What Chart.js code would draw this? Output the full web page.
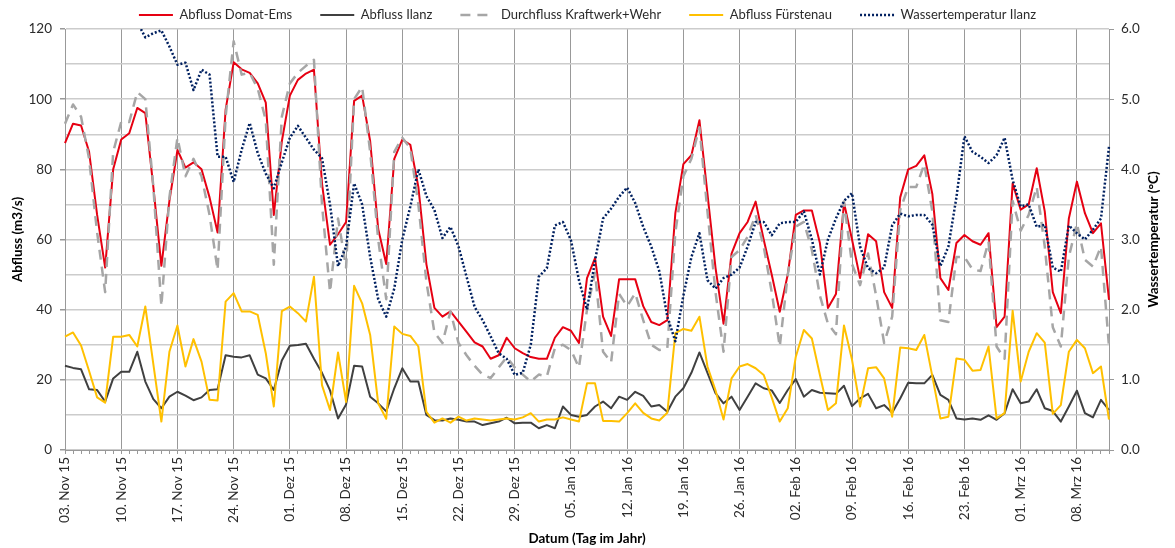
<!DOCTYPE html>
<html>
<head>
<meta charset="utf-8">
<title>Abfluss und Wassertemperatur</title>
<script src="https://cdn.jsdelivr.net/npm/chart.js@4.4.1/dist/chart.umd.min.js"></script>
<style>
  html, body { margin: 0; padding: 0; background: #ffffff; }
  #wrap { width: 1175px; height: 548px; }
</style>
</head>
<body>
<div id="wrap"><canvas id="chart" width="1175" height="548"></canvas></div>
<script>
// Daily values, 03.11.2015 – 12.03.2016 (131 days)
const firstDay = [2015, 10, 3];            // year, month (0-based), day
const monthNames = ['Jan', 'Feb', 'Mrz', 'Apr', 'Mai', 'Jun', 'Jul', 'Aug', 'Sep', 'Okt', 'Nov', 'Dez'];

// labelled weekly ticks on the date axis
const tickLabels = [
  '03. Nov 15', '10. Nov 15', '17. Nov 15', '24. Nov 15', '01. Dez 15', '08. Dez 15',
  '15. Dez 15', '22. Dez 15', '29. Dez 15', '05. Jan 16', '12. Jan 16', '19. Jan 16',
  '26. Jan 16', '02. Feb 16', '09. Feb 16', '16. Feb 16', '23. Feb 16', '01. Mrz 16', '08. Mrz 16'
];

// Abfluss Domat-Ems (m3/s)
const domatEms = [
  87.5, 93, 92.5, 85, 67, 52, 80, 88.5, 90.3, 97.5,
  96, 75, 52.5, 71, 85.5, 80.5, 82, 80, 72, 62,
  97, 110.5, 108.5, 107.5, 104.5, 99, 67, 88, 101, 105.5,
  107.3, 108.4, 76, 58.5, 61.5, 65, 99.5, 101, 88, 63,
  53, 83, 88.5, 87, 75, 53, 40.5, 38, 39.5, 36.6,
  33.7, 30.7, 29.5, 26, 27, 32, 29, 27.6, 26.5, 26,
  26, 32, 35, 34, 30.5, 49, 54.7, 38, 32.5, 48.7,
  48.7, 48.7, 41, 36.5, 35.6, 37, 67.5, 81.5, 84, 94,
  73, 52, 36, 56, 61.8, 65, 70.8, 60, 50, 39.4,
  50, 67, 68.3, 68.3, 59, 40.5, 44.5, 70.5, 60, 49,
  61.5, 59.5, 45, 40.5, 72, 80, 81, 84, 73, 49,
  45.6, 59, 61.3, 59.5, 58.5, 61.8, 35, 38, 76, 68.5,
  70, 80.3, 68, 45, 39, 66, 76.5, 67.5, 61.8, 64.6,
  42.8
];

// Abfluss Ilanz (m3/s)
const ilanz = [
  24, 23.4, 23, 17.3, 17.1, 13.8, 20.4, 22.3, 22.3, 28,
  19.5, 14.5, 11.9, 15.2, 16.6, 15.5, 14.2, 15, 17.1, 17.3,
  27, 26.6, 26.4, 27, 21.5, 20.4, 17.1, 25.5, 29.7, 29.9,
  30.3, 26, 22, 17, 9, 13, 24, 23.8, 15.2, 13.3,
  11, 17.6, 23.3, 19.5, 19.5, 10, 8.5, 8.4, 9, 8.6,
  8.1, 8.1, 7.1, 7.6, 8.1, 9.2, 7.6, 7.8, 7.8, 6.2,
  7.1, 6.2, 12.4, 10, 9.5, 10, 12.4, 13.8, 11.9, 15.2,
  14.3, 16.6, 15.4, 12.4, 12.8, 10.9, 15.2, 17.6, 22, 27.8,
  22, 16.2, 13.3, 15.2, 11.4, 15.2, 19, 17.6, 17, 13.4,
  17.1, 20.2, 15.2, 17.1, 16.3, 16.2, 16, 18.3, 12.5, 14.7,
  16, 11.9, 12.8, 10.6, 14.7, 19.2, 19, 19, 21.4, 15.7,
  14.3, 9, 8.7, 9, 8.6, 9.9, 8.6, 10.5, 17.3, 13.3,
  13.8, 17.3, 11.9, 11.1, 8.1, 12.4, 16.9, 10.5, 9.3, 14.3,
  11.4
];

// Durchfluss Kraftwerk+Wehr (m3/s)
const kraftwerkWehr = [
  93, 98.5, 95, 83, 62, 45, 85, 93.5, 93.5, 102,
  100, 75, 41, 72, 89, 78, 83, 78, 67, 51.3,
  95, 116.5, 107, 107.5, 103, 94, 52.8, 95, 104.5, 107.5,
  109.5, 111.2, 70, 45, 66, 52, 100, 103.5, 85, 60,
  43, 85, 89, 86, 70, 48, 33.5, 30.5, 39.5, 30.5,
  27, 24, 21.5, 20.5, 23.5, 26.5, 23.5, 21.5, 19.5, 21.5,
  21, 29, 30, 28.5, 23.5, 40, 50.5, 28, 25, 44.5,
  41, 44.7, 37, 30, 28.5, 29, 62, 78, 83, 92,
  68, 45, 28, 55, 57, 60.8, 67, 58, 45, 29.5,
  50, 63.7, 65, 57, 44, 36, 33, 70.8, 53, 47,
  56, 44, 30.5, 38, 68.4, 75, 75, 81.5, 68, 37,
  36.5, 55, 55, 51.5, 51, 59.4, 29.5, 26, 71, 62.5,
  67, 75, 58, 35, 29.5, 55, 64.6, 54.2, 52.3, 58,
  29.5
];

// Abfluss Fürstenau (m3/s)
const fuerstenau = [
  32.3, 33.5, 29.8, 22.5, 15, 13.5, 32.3, 32.3, 32.8, 29.5,
  40.9, 24.5, 8.1, 28, 35.5, 23.8, 31.6, 25.2, 14.3, 14.1,
  42.3, 44.7, 39.5, 39.5, 38.5, 27.6, 12.4, 39.6, 40.9, 39,
  36.6, 49.4, 18.5, 11.4, 27.8, 13.7, 46.8, 41.8, 32.8, 13.3,
  8.9, 35.2, 33.1, 32.5, 29.5, 10.9, 7.8, 9, 7.8, 9.5,
  8.4, 9, 8.7, 8.4, 8.7, 9, 8.7, 9.3, 10.5, 8.1,
  8.7, 8.7, 9.3, 8.7, 8.1, 19, 19, 8.3, 8.3, 8.1,
  10.5, 13.3, 10.6, 9, 8.4, 10.6, 33.3, 34.5, 34, 38,
  23.8, 17, 8.7, 20.4, 23.8, 24.5, 23.3, 21.4, 15, 8.1,
  11.9, 26.6, 34.2, 31.8, 21.4, 11.4, 13.3, 35.5, 25.7, 12.4,
  23.3, 23.6, 20.4, 9.5, 29.2, 29, 28.5, 32.8, 21, 9,
  9.5, 26.1, 25.7, 22.6, 22.8, 29.5, 9, 10.5, 39.7, 19.5,
  28, 33.3, 30.6, 10.3, 12.8, 28, 31.4, 29, 21.9, 23.8,
  8.7
];

// Wassertemperatur Ilanz (°C), above 6 °C in early November
const wassertemperatur = [
  null, null, null, null, null, null, null, null, null, 6.1,
  5.88, 5.94, 5.98, 5.75, 5.49, 5.52, 5.13, 5.42, 5.35, 4.18,
  4.18, 3.82, 4.28, 4.66, 4.23, 3.94, 3.73, 4.1, 4.45, 4.62,
  4.45, 4.28, 4.16, 3.5, 2.62, 2.9, 3.8, 3.5, 2.75, 2.15,
  1.9, 2.3, 3.0, 3.47, 4.0, 3.62, 3.42, 3.02, 3.18, 2.9,
  2.47, 2.04, 1.85, 1.62, 1.38, 1.3, 1.07, 1.1, 1.5, 2.47,
  2.59, 3.2, 3.25, 2.99, 2.42, 2.0, 2.7, 3.3, 3.44, 3.61,
  3.74, 3.52, 3.18, 2.9, 2.55, 1.9, 1.55, 2.2, 2.75, 3.09,
  2.42, 2.3, 2.45, 2.5, 2.6, 2.9, 3.25, 3.25, 3.06, 3.23,
  3.25, 3.25, 3.4, 3.0, 2.5, 3.0, 3.3, 3.55, 3.66, 2.9,
  2.59, 2.52, 2.6, 3.2, 3.37, 3.33, 3.35, 3.35, 3.21, 2.62,
  2.9, 3.6, 4.47, 4.25, 4.18, 4.09, 4.2, 4.45, 3.85, 3.47,
  3.5, 3.18, 3.21, 2.6, 2.54, 3.2, 3.09, 3.0, 3.14, 3.3,
  4.32
];

// one category per day, formatted like "03. Nov 15"
const categories = domatEms.map((_, i) => {
  const d = new Date(Date.UTC(firstDay[0], firstDay[1], firstDay[2] + i));
  const dd = String(d.getUTCDate()).padStart(2, '0');
  const yy = String(d.getUTCFullYear()).slice(2);
  return dd + '. ' + monthNames[d.getUTCMonth()] + ' ' + yy;
});
const labelledIndex = new Set(categories.map((c, i) => tickLabels.includes(c) ? i : -1).filter(i => i >= 0));

const FONT = 'Lato, "Open Sans", sans-serif';
const TEXT = '#2b2b2b';
const AXIS = '#999999';
const GRID = '#cccccc';
const NONE = 'rgba(0,0,0,0)';

// legend row sits higher than its padding would put it; grow the box upwards
const legendShift = {
  id: 'legendShift',
  afterLayout(chart, args, opts) {
    const lg = chart.legend;
    if (!lg) return;
    lg.top += opts.dy;
    lg.height = lg.bottom - lg.top;
  }
};

// secondary axis title, read bottom-to-top
const sideTitle = {
  id: 'sideTitle',
  afterDraw(chart, args, opts) {
    const {ctx, chartArea} = chart;
    const sc = chart.scales.y2;
    ctx.save();
    ctx.translate(sc.right - opts.offset, (chartArea.top + chartArea.bottom) / 2);
    ctx.rotate(-Math.PI / 2);
    ctx.font = 'bold 13.4px ' + FONT;
    ctx.fillStyle = '#000000';
    ctx.textAlign = 'center';
    ctx.textBaseline = 'middle';
    ctx.fillText(opts.text, 0, 0);
    ctx.restore();
  }
};

new Chart(document.getElementById('chart'), {
  type: 'line',
  data: {
    labels: categories,
    datasets: [
      { label: 'Abfluss Domat-Ems', data: domatEms, borderColor: '#e60012', borderWidth: 2, yAxisID: 'y', order: 4 },
      { label: 'Abfluss Ilanz', data: ilanz, borderColor: '#404040', borderWidth: 2, yAxisID: 'y', order: 3 },
      { label: 'Durchfluss Kraftwerk+Wehr', data: kraftwerkWehr, borderColor: '#a6a6a6', borderWidth: 2.5, borderDash: [10, 7], yAxisID: 'y', order: 2 },
      { label: 'Abfluss Fürstenau', data: fuerstenau, borderColor: '#ffc000', borderWidth: 2, yAxisID: 'y', order: 1 },
      { label: 'Wassertemperatur Ilanz', data: wassertemperatur, borderColor: '#002060', borderWidth: 2.5, borderDash: [2, 2], yAxisID: 'y2', order: 0 }
    ]
  },
  options: {
    responsive: false,
    animation: false,
    events: [],
    layout: { padding: 0 },
    elements: {
      point: { radius: 0, hoverRadius: 0 },
      line: { tension: 0, fill: false, borderCapStyle: 'butt', borderJoinStyle: 'round' }
    },
    plugins: {
      tooltip: { enabled: false },
      legend: {
        position: 'top',
        align: 'center',
        maxHeight: 29,
        labels: {
          usePointStyle: true,
          pointStyleWidth: 34,
          padding: 28,
          color: TEXT,
          font: { family: FONT, size: 13 },
          generateLabels: chart => chart.data.datasets.map((ds, i) => ({
            text: ds.label,
            datasetIndex: i,
            strokeStyle: ds.borderColor,
            fillStyle: ds.borderColor,
            lineWidth: ds.borderWidth,
            lineDash: ds.borderDash || [],
            lineCap: 'butt',
            pointStyle: 'line',
            hidden: false,
            fontColor: TEXT
          }))
        }
      },
      legendShift: { dy: -19.5 },
      sideTitle: { text: 'Wassertemperatur (°C)', offset: 21 }
    },
    scales: {
      x: {
        type: 'category',
        offset: false,
        grid: {
          display: true,
          drawOnChartArea: true,
          color: c => labelledIndex.has(c.index) ? AXIS : NONE,
          lineWidth: 1,
          tickColor: AXIS,
          tickLength: 4
        },
        border: { display: true, color: AXIS, width: 1 },
        ticks: {
          autoSkip: false,
          minRotation: 90,
          maxRotation: 90,
          padding: 3,
          color: TEXT,
          font: { family: FONT, size: 13.5 },
          callback: (v, i) => labelledIndex.has(i) ? categories[i] : ''
        },
        title: {
          display: true,
          text: 'Datum (Tag im Jahr)',
          color: '#000000',
          font: { family: FONT, size: 13.4, weight: 'bold' },
          padding: { top: 0, bottom: 1.5 }
        },
        afterFit: s => { s.height = 98; }
      },
      y: {
        position: 'left',
        min: 0,
        max: 120,
        grid: {
          color: GRID,
          lineWidth: 1.5,
          tickLength: 5,
          tickColor: c => (c.tick && c.tick.value % 20 === 0) ? AXIS : NONE
        },
        border: { display: true, color: AXIS, width: 1 },
        ticks: {
          stepSize: 10,
          padding: 8,
          color: TEXT,
          font: { family: FONT, size: 13.5 },
          callback: v => v % 20 === 0 ? String(v) : ''
        },
        title: {
          display: true,
          text: 'Abfluss (m3/s)',
          color: '#000000',
          font: { family: FONT, size: 13.4, weight: 'bold' },
          padding: { top: 10, bottom: 0 }
        },
        afterFit: s => { s.width = 65; }
      },
      y2: {
        position: 'right',
        min: 0,
        max: 6,
        grid: {
          drawOnChartArea: false,
          color: AXIS,
          tickLength: 5
        },
        border: { display: true, color: AXIS, width: 1 },
        ticks: {
          stepSize: 1,
          padding: 7,
          color: TEXT,
          font: { family: FONT, size: 13.5 },
          callback: v => Number(v).toFixed(1)
        },
        afterFit: s => { s.width = 66; }
      }
    }
  },
  plugins: [legendShift, sideTitle]
});
</script>
</body>
</html>
